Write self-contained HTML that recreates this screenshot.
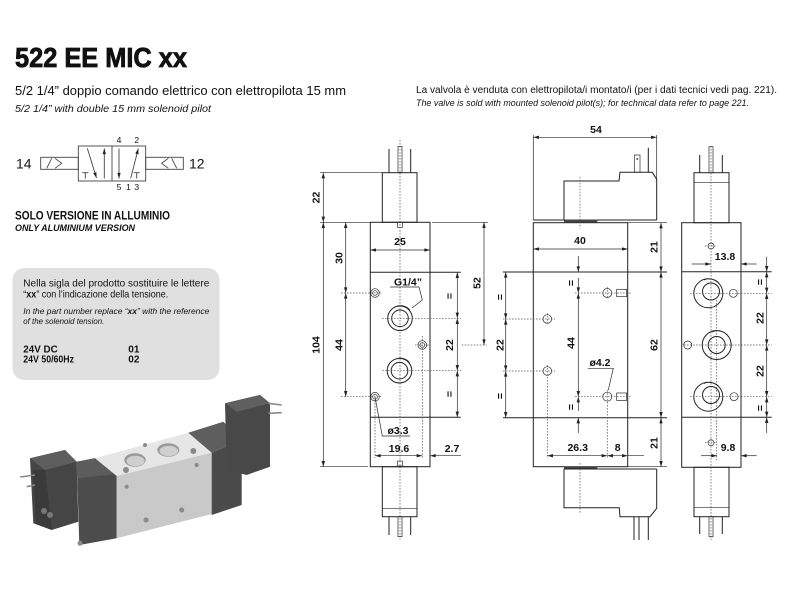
<!DOCTYPE html>
<html><head><meta charset="utf-8"><style>
html,body{margin:0;padding:0;background:#fff;width:800px;height:600px;overflow:hidden}
svg{display:block}
text{font-family:"Liberation Sans",Arial,sans-serif;fill:#111}
.d{font-weight:bold;font-size:10.5px;fill:#222}
.ln{stroke:#222;stroke-width:1;fill:none}
.th{stroke:#2a2a2a;stroke-width:0.7;fill:none}
.ds{stroke:#555;stroke-width:0.7;stroke-dasharray:1.6 1.4;fill:none}
.sy{stroke:#444;stroke-width:0.9;fill:none}
</style></head><body>
<svg width="800" height="600" viewBox="0 0 800 600" xmlns="http://www.w3.org/2000/svg">
<defs>
<marker id="a" viewBox="0 0 10 6" refX="10" refY="3" markerWidth="6" markerHeight="3.4" markerUnits="userSpaceOnUse" orient="auto-start-reverse"><path d="M0,0 L10,3 L0,6 z" fill="#222"/></marker>
</defs>

<!-- Titles -->
<text x="15" y="67" font-size="28" font-weight="bold" textLength="172" lengthAdjust="spacingAndGlyphs" stroke="#111" stroke-width="0.8">522 EE MIC xx</text>
<text x="15" y="95" font-size="12.5" textLength="331" lengthAdjust="spacingAndGlyphs" fill="#222">5/2 1/4” doppio comando elettrico con elettropilota 15 mm</text>
<text x="15" y="112" font-size="10" font-style="italic" textLength="196" lengthAdjust="spacingAndGlyphs" fill="#222">5/2 1/4” with double 15 mm solenoid pilot</text>

<text x="416" y="93" font-size="10" textLength="361" lengthAdjust="spacingAndGlyphs" fill="#222">La valvola è venduta con elettropilota/i montato/i (per i dati tecnici vedi pag. 221).</text>
<text x="416" y="106" font-size="9" font-style="italic" textLength="333" lengthAdjust="spacingAndGlyphs" fill="#222">The valve is sold with mounted solenoid pilot(s); for technical data refer to page 221.</text>

<!-- Symbol -->
<text x="16" y="168.5" font-size="14" fill="#333">14</text>
<text x="189" y="168.5" font-size="14" fill="#333">12</text>
<rect x="40.7" y="157.3" width="37.6" height="12" class="sy"/>
<line x1="46.7" y1="168.3" x2="51.7" y2="158.3" class="sy"/>
<path d="M55,158.3 L61.7,163.3 L55,168.3" class="sy"/>
<rect x="78.3" y="146" width="67.4" height="35" class="sy"/>
<line x1="112" y1="146" x2="112" y2="181" class="sy"/>
<line x1="87.3" y1="148.3" x2="96.5" y2="178" class="sy" marker-end="url(#a)"/>
<line x1="104.3" y1="178.5" x2="104.3" y2="148.5" class="sy" marker-end="url(#a)"/>
<path d="M82.3,172.7 H88.3 M85.3,172.7 V178.5" class="sy"/>
<line x1="119" y1="148.5" x2="119" y2="178.5" class="sy" marker-end="url(#a)"/>
<line x1="130.7" y1="178.3" x2="138.3" y2="148.5" class="sy" marker-end="url(#a)"/>
<path d="M133.7,172.7 H139.7 M136.7,172.7 V178.5" class="sy"/>
<rect x="145.7" y="157.3" width="37.6" height="12" class="sy"/>
<path d="M168.3,158.3 L161.7,163.3 L168.3,168.3" class="sy"/>
<line x1="171.7" y1="158.3" x2="176.7" y2="168.3" class="sy"/>
<g font-size="8.5" fill="#444" text-anchor="middle">
<text x="119" y="143">4</text><text x="136.7" y="143">2</text>
<text x="119" y="190">5</text><text x="128.5" y="190">1</text><text x="136.7" y="190">3</text>
</g>

<text x="15" y="219.5" font-size="11.5" font-weight="bold" textLength="155" lengthAdjust="spacingAndGlyphs" fill="#222">SOLO VERSIONE IN ALLUMINIO</text>
<text x="15" y="231" font-size="9" font-weight="bold" font-style="italic" textLength="120" lengthAdjust="spacingAndGlyphs" fill="#222">ONLY ALUMINIUM VERSION</text>

<!-- Gray box -->
<rect x="12.5" y="268" width="207" height="112" rx="12" fill="#e0e0e0"/>
<text x="23.3" y="286.7" font-size="10.2" textLength="186" lengthAdjust="spacingAndGlyphs" fill="#222">Nella sigla del prodotto sostituire le lettere</text>
<text x="23.3" y="297.7" font-size="10.2" textLength="145" lengthAdjust="spacingAndGlyphs" fill="#222">“<tspan font-weight="bold">xx</tspan>” con l’indicazione della tensione.</text>
<text x="23.3" y="314" font-size="7.8" font-style="italic" textLength="186" lengthAdjust="spacingAndGlyphs" fill="#222">In the part number replace “<tspan font-weight="bold">xx</tspan>” with the reference</text>
<text x="23.3" y="324" font-size="7.8" font-style="italic" textLength="81" lengthAdjust="spacingAndGlyphs" fill="#222">of the solenoid tension.</text>
<text x="23.3" y="352.7" font-size="10" font-weight="bold" textLength="34.4" lengthAdjust="spacingAndGlyphs" fill="#222">24V DC</text>
<text x="128.3" y="352.7" font-size="10" font-weight="bold" fill="#222">01</text>
<text x="23.3" y="362.5" font-size="10" font-weight="bold" textLength="50.7" lengthAdjust="spacingAndGlyphs" fill="#222">24V 50/60Hz</text>
<text x="128.3" y="362.5" font-size="10" font-weight="bold" fill="#222">02</text>

<!-- Product render -->
<g stroke="none">
<polygon points="30,458.3 65,450 76.7,461.7 78.3,521.7 51.7,530 33.3,523.3" fill="#454545"/>
<polygon points="30,458.3 65,450 76.7,461.7 45,470" fill="#5e5e5e"/>
<polygon points="33,470 45,470 52,530 36,524" fill="#3a3a3a"/>
<circle cx="44" cy="511" r="3" fill="#777"/><circle cx="50" cy="515" r="3" fill="#777"/>
<polygon points="76.7,461.7 96,458 116.7,474 116.7,538.3 79.3,545 77.3,478.3" fill="#4c4c4c"/>
<polygon points="76.7,461.7 96,458 116.7,474 77.3,478.3" fill="#5c5c5c"/>
<polygon points="95,458.3 188.3,432.7 211.7,452.7 116.7,476" fill="#e6e6e6"/>
<polygon points="116.7,476 211.7,452.7 211.7,514 116.7,538.3" fill="#c9c9c9"/>
<polygon points="188.3,432.7 223.3,421.7 241.7,440 211.7,452.7" fill="#5e5e5e"/>
<polygon points="211.7,452.7 241.7,440 241.7,505 211.7,515" fill="#4a4a4a"/>
<polygon points="225,403.3 260,395 270,403.3 270,466.7 246.7,475 226.7,470" fill="#484848"/>
<polygon points="225,403.3 260,395 270,403.3 236.7,411.7" fill="#5f5f5f"/>
<ellipse cx="135" cy="460" rx="10.7" ry="6.7" fill="#9a9a9a"/>
<ellipse cx="135.5" cy="461" rx="9" ry="5.2" fill="#cfcfcf"/>
<ellipse cx="168.3" cy="450" rx="11" ry="6.7" fill="#9a9a9a"/>
<ellipse cx="168.8" cy="451" rx="9.3" ry="5.2" fill="#cfcfcf"/>
<g fill="#8a8a8a">
<circle cx="145" cy="445" r="2"/><circle cx="193.3" cy="451" r="3"/><circle cx="126" cy="470" r="3"/>
<circle cx="196.7" cy="465" r="2"/><circle cx="126.7" cy="486.7" r="2"/><circle cx="181.7" cy="510" r="2.5"/>
<circle cx="146" cy="520" r="2.5"/><circle cx="80" cy="543.3" r="2.5"/>
</g>
</g>
<g stroke="#888" stroke-width="1.6" fill="none">
<line x1="20" y1="477" x2="35" y2="475"/><line x1="26.7" y1="486.7" x2="35" y2="485"/>
<line x1="268.3" y1="403.3" x2="281.7" y2="405"/><line x1="268.3" y1="413.3" x2="281.7" y2="412.7"/>
</g>

<!-- ===== FRONT VIEW ===== -->
<rect x="382.3" y="172.7" width="34.7" height="49.6" class="ln"/>
<line x1="389" y1="149" x2="389" y2="172.7" class="ln" stroke-width="1.3"/>
<line x1="410.7" y1="149" x2="410.7" y2="172.7" class="ln" stroke-width="1.3"/>
<rect x="398" y="146.5" width="4" height="26" class="th"/>
<rect x="397.5" y="222.3" width="5" height="5" class="th"/>
<rect x="370.3" y="222.3" width="59.7" height="244.4" class="ln"/>
<line x1="370.3" y1="272.3" x2="460.7" y2="272.3" class="ln"/>
<line x1="370.3" y1="417.3" x2="460.7" y2="417.3" class="ln"/>
<line x1="400" y1="140" x2="400" y2="540" class="ds"/>
<line x1="422.3" y1="336" x2="422.3" y2="458" class="ds"/>
<line x1="375" y1="400" x2="375" y2="458" class="ds"/>
<g class="th">
<circle cx="375" cy="293" r="4.3"/><circle cx="375" cy="293" r="2.3"/>
<circle cx="375" cy="396.7" r="4.3"/><circle cx="375" cy="396.7" r="2.3"/>
<circle cx="422.3" cy="345" r="4.3"/><circle cx="422.3" cy="345" r="2.3"/>
</g>
<g class="ln">
<circle cx="400" cy="318.3" r="12.3"/><circle cx="400" cy="318.3" r="8.3"/>
<circle cx="399.5" cy="370.7" r="12.3"/><circle cx="399.5" cy="370.7" r="8.3"/>
</g>
<path d="M396,306.5 A12,12 0 0 1 410,310" class="th"/>
<path d="M396,358.8 A12,12 0 0 1 409.5,362.5" class="th"/>
<g class="ds">
<line x1="341" y1="293" x2="381" y2="293"/><line x1="341" y1="396.7" x2="381" y2="396.7"/>
<line x1="382" y1="318.3" x2="461" y2="318.3"/><line x1="382" y1="370.7" x2="461" y2="370.7"/>
<line x1="415" y1="345" x2="430" y2="345"/><line x1="461.7" y1="345" x2="486.7" y2="345"/>
</g>
<g class="th">
<line x1="320" y1="172.7" x2="382.3" y2="172.7"/>
<line x1="320" y1="222.3" x2="370.3" y2="222.3"/>
<line x1="320" y1="466.7" x2="368" y2="466.7"/>
<line x1="432" y1="222.3" x2="488" y2="222.3"/>
<line x1="323.3" y1="172.7" x2="323.3" y2="222.3" marker-start="url(#a)" marker-end="url(#a)"/>
<line x1="323.3" y1="222.3" x2="323.3" y2="466.7" marker-start="url(#a)" marker-end="url(#a)"/>
<line x1="345.7" y1="222.3" x2="345.7" y2="293" marker-start="url(#a)" marker-end="url(#a)"/>
<line x1="345.7" y1="293" x2="345.7" y2="396.7" marker-start="url(#a)" marker-end="url(#a)"/>
<line x1="370.3" y1="250" x2="430" y2="250" marker-start="url(#a)" marker-end="url(#a)"/>
<line x1="484" y1="222.3" x2="484" y2="345" marker-start="url(#a)" marker-end="url(#a)"/>
<line x1="457.3" y1="272.3" x2="457.3" y2="318.3" marker-start="url(#a)" marker-end="url(#a)"/>
<line x1="457.3" y1="318.3" x2="457.3" y2="370.7" marker-start="url(#a)" marker-end="url(#a)"/>
<line x1="457.3" y1="370.7" x2="457.3" y2="417.3" marker-start="url(#a)" marker-end="url(#a)"/>
<line x1="375" y1="455.7" x2="422.3" y2="455.7" marker-start="url(#a)" marker-end="url(#a)"/>
<line x1="461" y1="455.7" x2="430" y2="455.7" marker-end="url(#a)"/>
<polyline points="390,287 419,287 422.3,300 412,308"/>
<polyline points="375,397 382.3,436 410,436"/>
</g>
<g class="d" text-anchor="middle">
<text transform="translate(319.5,197.5) rotate(-90)">22</text>
<text transform="translate(319.5,345) rotate(-90)">104</text>
<text transform="translate(342.5,258) rotate(-90)">30</text>
<text transform="translate(342.5,345) rotate(-90)">44</text>
<text transform="translate(480.5,283) rotate(-90)">52</text>
<text transform="translate(453,296) rotate(-90)">=</text>
<text transform="translate(453,345) rotate(-90)">22</text>
<text transform="translate(453,394) rotate(-90)">=</text>
<text x="400" y="245">25</text>
<text x="399" y="452">19.6</text>
<text x="452" y="452">2.7</text>
<text x="408" y="285.5">G1/4”</text>
<text x="398" y="434">ø3.3</text>
</g>
<rect x="382.3" y="466.7" width="34.7" height="50" class="ln"/>
<line x1="382.3" y1="508.3" x2="417" y2="508.3" class="th"/>
<line x1="389" y1="516.7" x2="389" y2="535" class="ln" stroke-width="1.3"/>
<line x1="410.7" y1="516.7" x2="410.7" y2="535" class="ln" stroke-width="1.3"/>
<rect x="398" y="516.7" width="4" height="20" class="th"/>
<rect x="397.5" y="461" width="5" height="5" class="th"/>

<!-- ===== SIDE VIEW ===== -->
<rect x="533.3" y="222.7" width="94.4" height="244" class="ln"/>
<line x1="503" y1="272" x2="667" y2="272" class="ln"/>
<line x1="503" y1="417.7" x2="667" y2="417.7" class="ln"/>
<line x1="627.7" y1="222.7" x2="667" y2="222.7" class="th"/>
<line x1="627.7" y1="466.7" x2="667" y2="466.7" class="th"/>
<polyline points="564,220 564,181 619,181 620,172.3 652.3,172.3 656.7,179.3 656.7,220" class="ln"/>
<line x1="533.3" y1="220" x2="656.7" y2="220" class="ln"/>
<rect x="564" y="219.5" width="33.3" height="3" fill="#444"/>
<line x1="533.3" y1="135" x2="533.3" y2="220" class="th"/>
<line x1="656.7" y1="135" x2="656.7" y2="179" class="th"/>
<line x1="533.3" y1="137.3" x2="656.7" y2="137.3" class="th" marker-start="url(#a)" marker-end="url(#a)"/>
<rect x="634.3" y="155" width="5.7" height="17.3" class="th"/>
<circle cx="637.2" cy="159" r="0.9" fill="#222"/>
<line x1="648.3" y1="147.7" x2="648.3" y2="172.3" class="ln" stroke-width="1.4"/>
<line x1="580" y1="176.7" x2="580" y2="228.3" class="ds"/>
<g class="th">
<line x1="533.3" y1="249" x2="627.7" y2="249" marker-start="url(#a)" marker-end="url(#a)"/>
<line x1="661" y1="222.7" x2="661" y2="272" marker-start="url(#a)" marker-end="url(#a)"/>
<line x1="661" y1="272" x2="661" y2="417.7" marker-start="url(#a)" marker-end="url(#a)"/>
<line x1="661" y1="417.7" x2="661" y2="466.7" marker-start="url(#a)" marker-end="url(#a)"/>
<line x1="505.7" y1="272" x2="505.7" y2="319" marker-start="url(#a)" marker-end="url(#a)"/>
<line x1="505.7" y1="319" x2="505.7" y2="371" marker-start="url(#a)" marker-end="url(#a)"/>
<line x1="505.7" y1="371" x2="505.7" y2="417.7" marker-start="url(#a)" marker-end="url(#a)"/>
<line x1="578.3" y1="256" x2="578.3" y2="272" marker-end="url(#a)"/>
<line x1="578.3" y1="278" x2="578.3" y2="293" marker-end="url(#a)"/>
<line x1="578.3" y1="293" x2="578.3" y2="396.7" marker-start="url(#a)" marker-end="url(#a)"/>
<line x1="578.3" y1="411" x2="578.3" y2="396.7" marker-end="url(#a)"/>
<line x1="578.3" y1="433" x2="578.3" y2="417.7" marker-end="url(#a)"/>
<line x1="547.3" y1="455.7" x2="607.3" y2="455.7" marker-start="url(#a)" marker-end="url(#a)"/>
<line x1="607.3" y1="455.7" x2="627.7" y2="455.7" marker-start="url(#a)" marker-end="url(#a)"/>
<line x1="627.7" y1="455.7" x2="644" y2="455.7"/>
<polyline points="587.7,368.3 613.3,368.3 608.3,390"/>
<circle cx="547.3" cy="319" r="4.3"/><circle cx="547.3" cy="371" r="4.3"/>
<circle cx="607.3" cy="293" r="4.5"/><circle cx="607.3" cy="396.7" r="4.5"/>
<rect x="616.7" y="289.3" width="10" height="7.4"/><rect x="616.7" y="393" width="10" height="7.4"/>
</g>
<g class="ds">
<line x1="503" y1="319" x2="555" y2="319"/><line x1="503" y1="371" x2="555" y2="371"/>
<line x1="575" y1="293" x2="632" y2="293"/><line x1="575" y1="396.7" x2="632" y2="396.7"/>
<line x1="547.3" y1="313" x2="547.3" y2="325"/><line x1="547.3" y1="365" x2="547.3" y2="458.3"/>
<line x1="607.3" y1="287" x2="607.3" y2="299"/><line x1="607.3" y1="390" x2="607.3" y2="458"/>
</g>
<g class="d" text-anchor="middle">
<text x="596" y="133">54</text>
<text x="580" y="244">40</text>
<text transform="translate(657.5,247) rotate(-90)">21</text>
<text transform="translate(657.5,345) rotate(-90)">62</text>
<text transform="translate(657.5,443) rotate(-90)">21</text>
<text transform="translate(503.5,297) rotate(-90)">=</text>
<text transform="translate(503.5,345) rotate(-90)">22</text>
<text transform="translate(503.5,396) rotate(-90)">=</text>
<text transform="translate(574.5,283) rotate(-90)">=</text>
<text transform="translate(574.5,343) rotate(-90)">44</text>
<text transform="translate(574.5,407) rotate(-90)">=</text>
<text x="600" y="366">ø4.2</text>
<text x="577.7" y="451">26.3</text>
<text x="617.7" y="451">8</text>
</g>
<rect x="564" y="466.5" width="33.3" height="2.7" fill="#444"/>
<polyline points="564,469 564,507.7 619.3,507.7 620,516.7 650,516.7 656.7,508.3 656.7,469" class="ln"/>
<line x1="564" y1="469" x2="656.7" y2="469" class="ln"/>
<line x1="634" y1="517" x2="634" y2="540" class="ln"/>
<line x1="639" y1="517" x2="639" y2="540" class="ln"/>
<line x1="648.3" y1="517" x2="648.3" y2="540" class="ln" stroke-width="1.4"/>
<line x1="580" y1="463" x2="580" y2="513" class="ds"/>

<!-- ===== RIGHT VIEW ===== -->
<rect x="681.7" y="222.7" width="59.3" height="244.6" class="ln"/>
<line x1="681.7" y1="271.7" x2="771.7" y2="271.7" class="ln"/>
<line x1="681.7" y1="417.3" x2="771.7" y2="417.3" class="ln"/>
<rect x="694" y="172.7" width="35" height="50" class="ln"/>
<line x1="694" y1="182.3" x2="729" y2="182.3" class="th"/>
<line x1="699.7" y1="155" x2="699.7" y2="172.7" class="ln" stroke-width="1.3"/>
<line x1="722.3" y1="155" x2="722.3" y2="172.7" class="ln" stroke-width="1.3"/>
<rect x="709" y="146.7" width="4" height="26" class="th"/>
<line x1="711" y1="146" x2="711" y2="540" class="ds"/>
<line x1="716.7" y1="300" x2="716.7" y2="460" class="ds"/>
<g class="th">
<circle cx="711" cy="246" r="3"/><circle cx="711" cy="442.7" r="3"/>
<circle cx="733.3" cy="293.3" r="4"/><circle cx="687.7" cy="345" r="4"/><circle cx="734" cy="396.7" r="4"/>
</g>
<g class="ln">
<circle cx="708.3" cy="293.3" r="14.5"/><circle cx="711" cy="291.5" r="8.5"/>
<circle cx="716.7" cy="345" r="14.5"/><circle cx="716.7" cy="345" r="8.5"/>
<circle cx="708.3" cy="396.7" r="14.5"/><circle cx="711" cy="395" r="8.5"/>
</g>
<path d="M704,280 A13,13 0 0 1 719,283" class="th"/>
<path d="M712,332 A13,13 0 0 1 727,335" class="th"/>
<path d="M704,383.5 A13,13 0 0 1 719,386.5" class="th"/>
<g class="ds">
<line x1="690" y1="293.3" x2="771.7" y2="293.3"/>
<line x1="681" y1="345" x2="771.7" y2="345"/>
<line x1="690" y1="396.7" x2="771.7" y2="396.7"/>
<line x1="705" y1="246" x2="717" y2="246"/>
<line x1="705" y1="442.7" x2="717" y2="442.7"/>
</g>
<g class="th">
<line x1="691.7" y1="264" x2="711" y2="264" marker-end="url(#a)"/>
<line x1="756.7" y1="264" x2="741" y2="264" marker-end="url(#a)"/>
<line x1="701" y1="455.7" x2="717" y2="455.7" marker-end="url(#a)"/>
<line x1="756.7" y1="455.7" x2="741" y2="455.7" marker-end="url(#a)"/>
<line x1="766.7" y1="256.7" x2="766.7" y2="271.7" marker-end="url(#a)"/>
<line x1="766.7" y1="271.7" x2="766.7" y2="293.3" marker-start="url(#a)" marker-end="url(#a)"/>
<line x1="766.7" y1="293.3" x2="766.7" y2="345" marker-start="url(#a)" marker-end="url(#a)"/>
<line x1="766.7" y1="345" x2="766.7" y2="396.7" marker-start="url(#a)" marker-end="url(#a)"/>
<line x1="766.7" y1="396.7" x2="766.7" y2="417.3" marker-start="url(#a)" marker-end="url(#a)"/>
<line x1="766.7" y1="433" x2="766.7" y2="417.3" marker-end="url(#a)"/>
</g>
<g class="d" text-anchor="middle">
<text x="725" y="260">13.8</text>
<text x="728" y="451">9.8</text>
<text transform="translate(763.5,282) rotate(-90)">=</text>
<text transform="translate(763.5,318) rotate(-90)">22</text>
<text transform="translate(763.5,371) rotate(-90)">22</text>
<text transform="translate(763.5,408) rotate(-90)">=</text>
</g>
<rect x="694" y="467.3" width="35" height="49.4" class="ln"/>
<line x1="694" y1="507.7" x2="729" y2="507.7" class="th"/>
<line x1="699.7" y1="516.7" x2="699.7" y2="534" class="ln" stroke-width="1.3"/>
<line x1="722.3" y1="516.7" x2="722.3" y2="534" class="ln" stroke-width="1.3"/>
<rect x="709" y="516.7" width="4" height="20" class="th"/>
</svg>
</body></html>
